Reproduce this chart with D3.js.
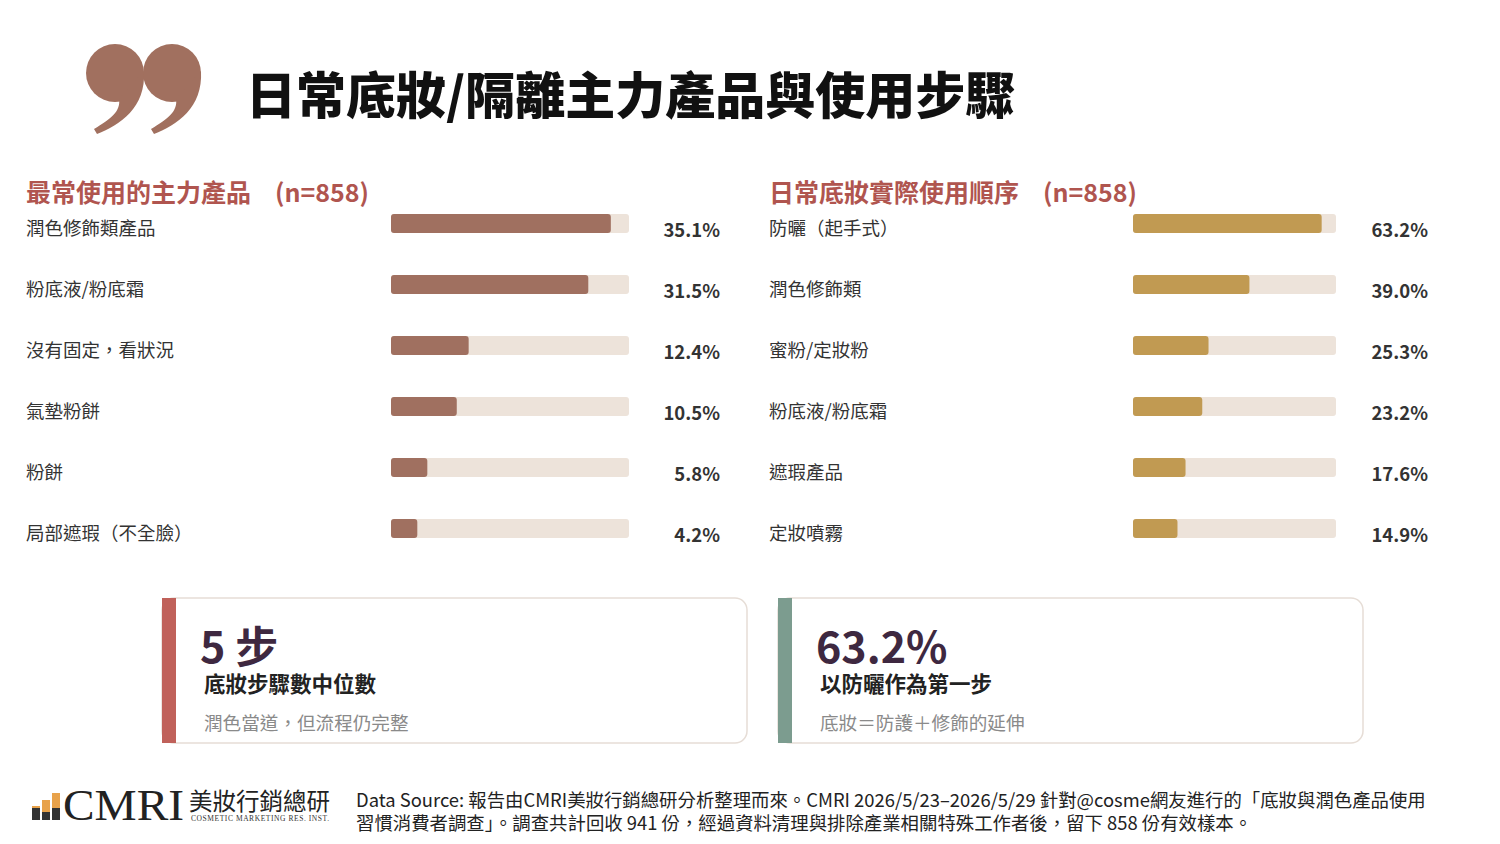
<!DOCTYPE html>
<html>
<head>
<meta charset="utf-8">
<script src="https://cdn.jsdelivr.net/npm/d3@7"></script>
<style>
  body { margin: 0; background: #fff; }
  svg { display: block; font-family: "Noto Sans CJK TC", "Noto Sans", sans-serif; }
</style>
</head>
<body>
<svg id="chart" width="1500" height="844"></svg>
<script>
// data
var title = "日常底妝/隔離主力產品與使用步驟";
var leftTitle = "最常使用的主力產品";
var rightTitle = "日常底妝實際使用順序";
var sampleLabel = "(n=858)";
var leftCats = ["潤色修飾類產品", "粉底液/粉底霜", "沒有固定，看狀況", "氣墊粉餅", "粉餅", "局部遮瑕（不全臉）"];
var leftVals = [35.1, 31.5, 12.4, 10.5, 5.8, 4.2];
var rightCats = ["防曬（起手式）", "潤色修飾類", "蜜粉/定妝粉", "粉底液/粉底霜", "遮瑕產品", "定妝噴霧"];
var rightVals = [63.2, 39.0, 25.3, 23.2, 17.6, 14.9];
var cardBig = ["5 步", "63.2%"];
var cardSub = ["底妝步驟數中位數", "以防曬作為第一步"];
var cardNote = ["潤色當道，但流程仍完整", "底妝＝防護＋修飾的延伸"];
var sourceLines = [
  "Data Source: 報告由CMRI美妝行銷總研分析整理而來。CMRI 2026/5/23–2026/5/29 針對@cosme網友進行的「底妝與潤色產品使用",
  "習慣消費者調查」。調查共計回收 941 份，經過資料清理與排除產業相關特殊工作者後，留下 858 份有效樣本。"
];

var svg = d3.select("#chart");

// quote mark
var quote = svg.append("g").attr("fill", "#a1705f");
[115, 172].forEach(function (cx) {
    var cy = 73, r = 29;
    quote.append("circle").attr("cx", cx).attr("cy", cy).attr("r", r);
    quote.append("path")
        .attr("d", "M" + (cx + r) + "," + (cy - 2) +
            " C" + (cx + r + 2) + "," + (cy + 35) + " " + (cx + 5) + "," + (cy + 52) + " " + (cx - 18) + "," + (cy + 61) +
            " L" + (cx - 21) + "," + (cy + 56) +
            " C" + (cx - 4) + "," + (cy + 46) + " " + (cx + 6) + "," + (cy + 38) + " " + (cx + 4) + "," + (cy + 26) + " Z");
});

svg.append("text")
    .attr("x", 246).attr("y", 114)
    .attr("font-size", "50px").attr("font-weight", 900)
    .attr("fill", "#111")
    .text(title);

function panel(cats, vals, opt) {
    var g = svg.append("g");
    var y = d3.scaleBand().domain(cats).range([193.5, 559.5]);
    var x = d3.scaleLinear().domain([0, opt.max]).range([opt.x0, opt.x1]);

    var head = g.append("text")
        .attr("x", opt.lx).attr("y", 202)
        .attr("font-size", "25px").attr("font-weight", 700)
        .attr("fill", "#b0554f");
    head.append("tspan").text(opt.title);
    head.append("tspan").attr("dx", 24).text(sampleLabel);

    var row = g.selectAll(".row").data(cats).enter().append("g").attr("class", "row");

    row.append("text")
        .attr("x", opt.lx)
        .attr("y", function (d) { return y(d) + y.bandwidth() / 2 + 11; })
        .attr("font-size", "18.5px").attr("fill", "#333")
        .text(function (d) { return d; });

    row.append("rect")
        .attr("x", x(0))
        .attr("y", function (d) { return y(d) + y.bandwidth() / 2 - 10; })
        .attr("width", x(opt.max) - x(0)).attr("height", 19)
        .attr("rx", 3).attr("fill", "#ede3da");

    row.append("rect")
        .attr("x", x(0))
        .attr("y", function (d) { return y(d) + y.bandwidth() / 2 - 10; })
        .attr("width", function (d, i) { return x(vals[i]) - x(0); })
        .attr("height", 19)
        .attr("rx", 3).attr("fill", opt.color);

    row.append("text")
        .attr("x", opt.vx)
        .attr("y", function (d) { return y(d) + y.bandwidth() / 2 + 12.5; })
        .attr("text-anchor", "end")
        .attr("font-size", "18.5px").attr("font-weight", 700).attr("fill", "#333")
        .text(function (d, i) { return vals[i].toFixed(1) + "%"; });
}

panel(leftCats, leftVals, {title: leftTitle, lx: 26, x0: 391, x1: 629, max: 38, vx: 720, color: "#a07060"});
panel(rightCats, rightVals, {title: rightTitle, lx: 769, x0: 1133, x1: 1336, max: 68, vx: 1428, color: "#c19a52"});

// summary cards
var cards = [{x: 162, c: "#c0615a"}, {x: 778, c: "#7c9c8f"}];
cards.forEach(function (c, i) {
    var g = svg.append("g").attr("transform", "translate(" + c.x + ",598)");
    g.append("rect").attr("x", 0).attr("y", 0).attr("width", 585).attr("height", 145)
        .attr("rx", 12).attr("fill", "#fff").attr("stroke", "#e6ddd6").attr("stroke-width", 1.5);
    g.append("rect").attr("x", 0).attr("y", 0).attr("width", 14).attr("height", 145).attr("fill", c.c);
    g.append("text").attr("x", 38).attr("y", 65)
        .attr("font-size", "43px").attr("font-weight", 700).attr("fill", "#3e2840")
        .text(cardBig[i]);
    g.append("text").attr("x", 42).attr("y", 93.5)
        .attr("font-size", "21.5px").attr("font-weight", 700).attr("fill", "#222")
        .text(cardSub[i]);
    g.append("text").attr("x", 42).attr("y", 132)
        .attr("font-size", "18.6px").attr("fill", "#8a8a8a")
        .text(cardNote[i]);
});

// footer logo
var logo = svg.append("g");
var orangeH = [14, 20, 27], darkH = [16, 12, 16];
orangeH.forEach(function (h, i) {
    logo.append("rect").attr("x", 32 + i * 10).attr("y", 820 - h).attr("width", 8).attr("height", h).attr("fill", "#e8a24a");
});
darkH.forEach(function (h, i) {
    logo.append("rect").attr("x", 32 + i * 10).attr("y", 820 - h + 4).attr("width", 8).attr("height", h - 4).attr("fill", "#333");
});
logo.append("text").attr("x", 63).attr("y", 820)
    .attr("font-family", "Liberation Serif, serif").attr("font-size", "44px").attr("fill", "#222")
    .attr("textLength", 121).attr("lengthAdjust", "spacingAndGlyphs")
    .text("CMRI");
logo.append("text").attr("x", 189).attr("y", 810)
    .attr("font-size", "23.5px").attr("fill", "#222")
    .text("美妝行銷總研");
logo.append("text").attr("x", 191).attr("y", 821)
    .attr("font-family", "Liberation Serif, serif").attr("font-size", "7.5px").attr("fill", "#333")
    .attr("textLength", 138)
    .text("COSMETIC MARKETING RES. INST.");

svg.selectAll(".src").data(sourceLines).enter().append("text")
    .attr("class", "src")
    .attr("x", 356)
    .attr("y", function (d, i) { return 807 + i * 22.5; })
    .attr("font-size", "18.4px").attr("fill", "#222")
    .text(function (d) { return d; });
</script>
</body>
</html>
